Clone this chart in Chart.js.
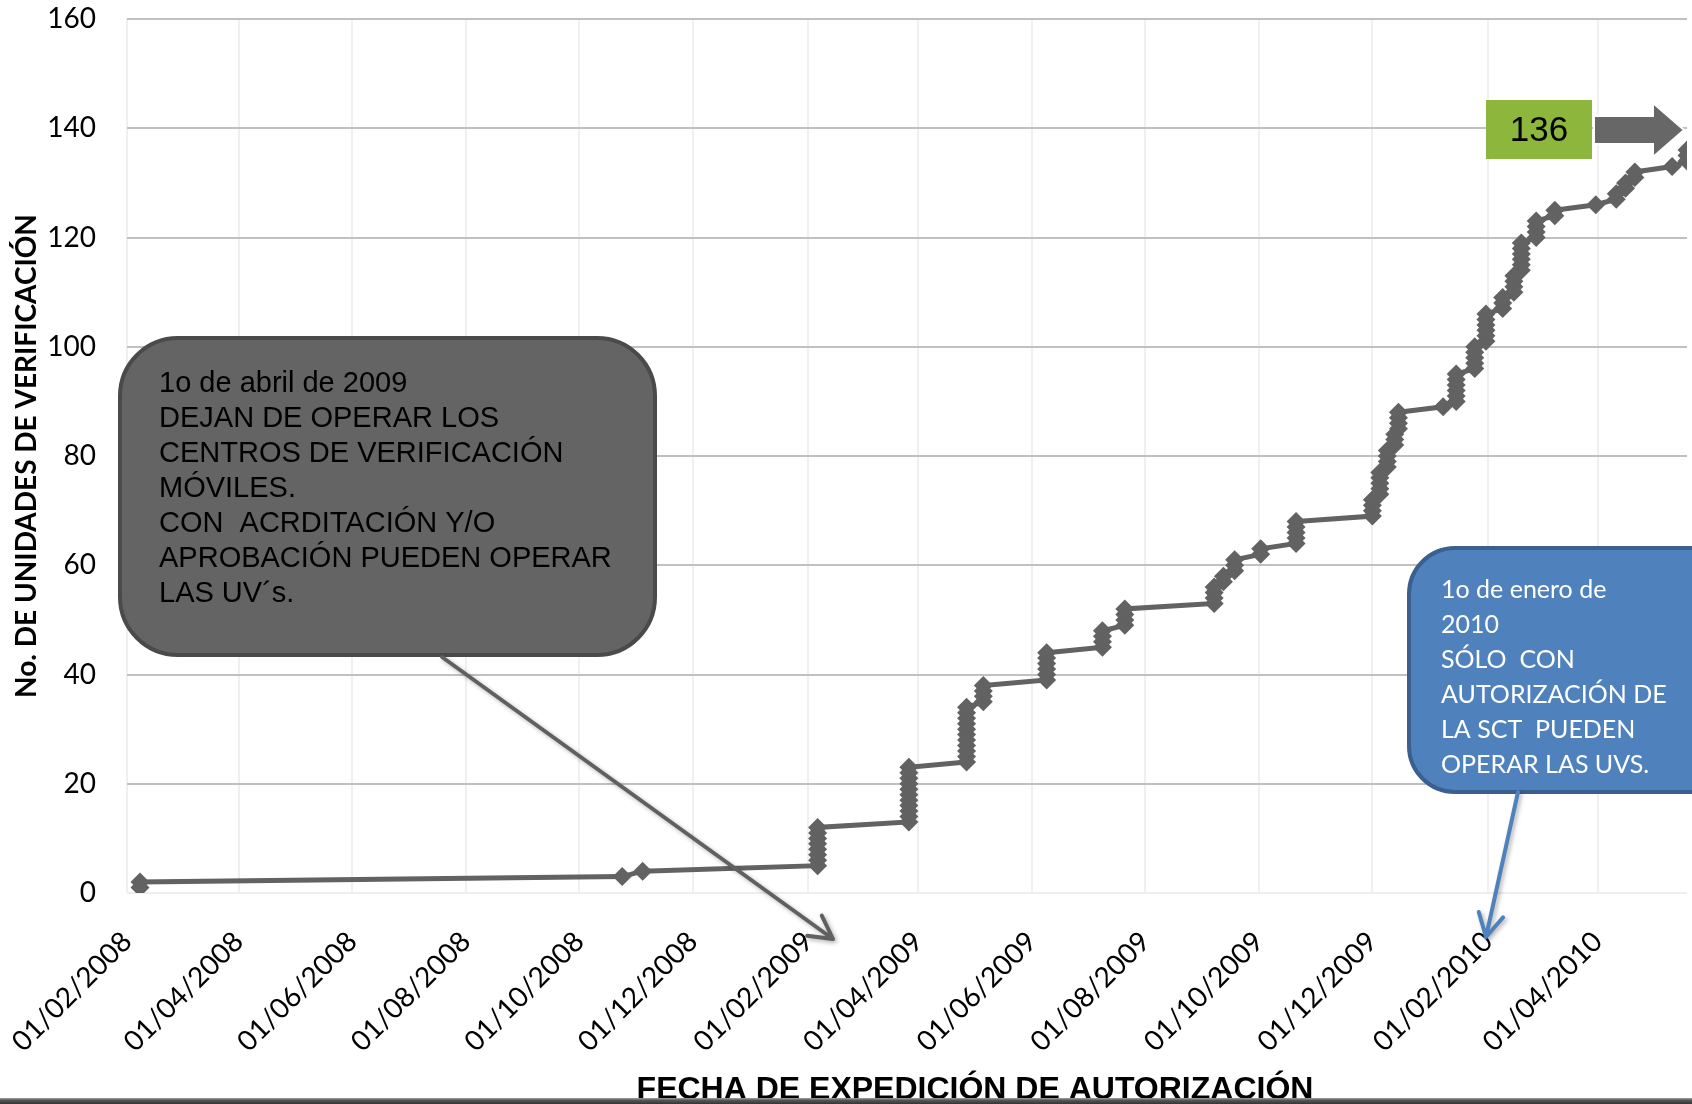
<!DOCTYPE html>
<html lang="es">
<head>
<meta charset="utf-8">
<title>Unidades de verificación</title>
<script src="https://cdn.jsdelivr.net/npm/chart.js@4.4.1/dist/chart.umd.min.js"></script>
<style>
  html, body { margin: 0; padding: 0; background: #fff; overflow: hidden; }
  canvas { display: block; }
</style>
</head>
<body>
<canvas id="graficoUV" width="1692" height="1104"></canvas>
<script>
// fecha de expedición (dd/mm/aaaa) de cada autorización, en orden
const fechas = [
  "08/02/2008", "08/02/2008", "24/10/2008", "04/11/2008",
  "06/02/2009", "06/02/2009", "06/02/2009", "06/02/2009", "06/02/2009", "06/02/2009", "06/02/2009", "06/02/2009",
  "27/03/2009", "27/03/2009", "27/03/2009", "27/03/2009", "27/03/2009", "27/03/2009", "27/03/2009", "27/03/2009", "27/03/2009", "27/03/2009", "27/03/2009",
  "27/04/2009", "27/04/2009", "27/04/2009", "27/04/2009", "27/04/2009", "27/04/2009", "27/04/2009", "27/04/2009", "27/04/2009", "27/04/2009", "27/04/2009",
  "06/05/2009", "06/05/2009", "06/05/2009", "06/05/2009",
  "09/06/2009", "09/06/2009", "09/06/2009", "09/06/2009", "09/06/2009", "09/06/2009",
  "09/07/2009", "09/07/2009", "09/07/2009", "09/07/2009",
  "21/07/2009", "21/07/2009", "21/07/2009", "21/07/2009",
  "07/09/2009", "07/09/2009", "07/09/2009", "07/09/2009",
  "12/09/2009", "12/09/2009",
  "18/09/2009", "18/09/2009", "18/09/2009",
  "02/10/2009", "02/10/2009",
  "21/10/2009", "21/10/2009", "21/10/2009", "21/10/2009", "21/10/2009",
  "01/12/2009", "01/12/2009", "01/12/2009", "01/12/2009",
  "05/12/2009", "05/12/2009", "05/12/2009", "05/12/2009", "05/12/2009",
  "09/12/2009", "09/12/2009", "09/12/2009", "09/12/2009",
  "13/12/2009", "13/12/2009", "13/12/2009",
  "15/12/2009", "15/12/2009", "15/12/2009", "15/12/2009",
  "08/01/2010",
  "15/01/2010", "15/01/2010", "15/01/2010", "15/01/2010", "15/01/2010", "15/01/2010",
  "25/01/2010", "25/01/2010", "25/01/2010", "25/01/2010", "25/01/2010",
  "31/01/2010", "31/01/2010", "31/01/2010", "31/01/2010", "31/01/2010", "31/01/2010",
  "09/02/2010", "09/02/2010", "09/02/2010",
  "15/02/2010", "15/02/2010", "15/02/2010", "15/02/2010",
  "19/02/2010", "19/02/2010", "19/02/2010", "19/02/2010", "19/02/2010", "19/02/2010",
  "27/02/2010", "27/02/2010", "27/02/2010", "27/02/2010",
  "09/03/2010", "09/03/2010",
  "31/03/2010",
  "11/04/2010", "11/04/2010",
  "16/04/2010", "16/04/2010",
  "21/04/2010", "21/04/2010",
  "11/05/2010",
  "19/05/2010", "19/05/2010", "19/05/2010"
];

// número acumulado de unidades de verificación
const unidades = [
  1, 2, 3, 4, 5, 6, 7, 8, 9, 10, 11, 12, 13, 14, 15, 16, 17, 18, 19, 20,
  21, 22, 23, 24, 25, 26, 27, 28, 29, 30, 31, 32, 33, 34, 35, 36, 37, 38, 39, 40,
  41, 42, 43, 44, 45, 46, 47, 48, 49, 50, 51, 52, 53, 54, 55, 56, 57, 58, 59, 60,
  61, 62, 63, 64, 65, 66, 67, 68, 69, 70, 71, 72, 73, 74, 75, 76, 77, 78, 79, 80,
  81, 82, 83, 84, 85, 86, 87, 88, 89, 90, 91, 92, 93, 94, 95, 96, 97, 98, 99, 100,
  101, 102, 103, 104, 105, 106, 107, 108, 109, 110, 111, 112, 113, 114, 115, 116, 117, 118, 119, 120,
  121, 122, 123, 124, 125, 126, 127, 128, 129, 130, 131, 132, 133, 134, 135, 136
];

const etiquetasX = [
  "01/02/2008", "01/04/2008", "01/06/2008", "01/08/2008", "01/10/2008", "01/12/2008",
  "01/02/2009", "01/04/2009", "01/06/2009", "01/08/2009", "01/10/2009", "01/12/2009",
  "01/02/2010", "01/04/2010"
];
const inicioEje = "01/02/2008";
const finEje = "19/05/2010";

const notaAbril = [
  "1o de abril de 2009",
  "DEJAN DE OPERAR LOS",
  "CENTROS DE VERIFICACIÓN",
  "MÓVILES.",
  "CON  ACRDITACIÓN Y/O",
  "APROBACIÓN PUEDEN OPERAR",
  "LAS UV´s."
];
const notaEnero = [
  "1o de enero de",
  "2010",
  "SÓLO  CON",
  "AUTORIZACIÓN DE",
  "LA SCT  PUEDEN",
  "OPERAR LAS UVS."
];
const totalFinal = "136";
const tituloX = "FECHA DE EXPEDICIÓN DE AUTORIZACIÓN";
const tituloY = "No. DE UNIDADES DE VERIFICACIÓN";

// días transcurridos desde el inicio del eje
function dia(txt) {
  const [d, m, a] = txt.split("/").map(Number);
  const [d0, m0, a0] = inicioEje.split("/").map(Number);
  return Math.round((Date.UTC(a, m - 1, d) - Date.UTC(a0, m0 - 1, d0)) / 86400000);
}

function cajaRedondeada(ctx, x, y, w, h, r) {
  ctx.beginPath();
  ctx.moveTo(x + r, y);
  ctx.arcTo(x + w, y, x + w, y + h, r);
  ctx.arcTo(x + w, y + h, x, y + h, r);
  ctx.arcTo(x, y + h, x, y, r);
  ctx.arcTo(x, y, x + w, y, r);
  ctx.closePath();
}

function flecha(ctx, x1, y1, x2, y2, color, grosor) {
  const ang = Math.atan2(y2 - y1, x2 - x1);
  const largo = 26;
  ctx.save();
  ctx.strokeStyle = color;
  ctx.lineWidth = grosor;
  ctx.lineCap = "round";
  ctx.lineJoin = "round";
  ctx.shadowColor = "rgba(0,0,0,0.3)";
  ctx.shadowBlur = 4;
  ctx.shadowOffsetX = 2;
  ctx.shadowOffsetY = 2;
  ctx.beginPath();
  ctx.moveTo(x1, y1);
  ctx.lineTo(x2, y2);
  ctx.moveTo(x2 - largo * Math.cos(ang - 0.5), y2 - largo * Math.sin(ang - 0.5));
  ctx.lineTo(x2, y2);
  ctx.lineTo(x2 - largo * Math.cos(ang + 0.5), y2 - largo * Math.sin(ang + 0.5));
  ctx.stroke();
  ctx.restore();
}

const anotaciones = {
  id: "anotaciones",
  afterDraw(chart) {
    const ctx = chart.ctx;
    ctx.save();

    // nota del 1o de abril de 2009
    cajaRedondeada(ctx, 120, 338, 535, 317, 58);
    ctx.fillStyle = "#646464";
    ctx.fill();
    ctx.lineWidth = 4;
    ctx.strokeStyle = "#4a4a4a";
    ctx.stroke();
    ctx.fillStyle = "#000";
    ctx.font = '29px "Liberation Sans", Arial, sans-serif';
    ctx.textBaseline = "middle";
    ctx.textAlign = "left";
    notaAbril.forEach((t, i) => ctx.fillText(t, 159, 384 + i * 35));
    flecha(ctx, 442, 657, 833, 939, "#606060", 4);

    // nota del 1o de enero de 2010
    cajaRedondeada(ctx, 1409, 548, 330, 244, 46);
    ctx.fillStyle = "#4f81bd";
    ctx.fill();
    ctx.lineWidth = 4;
    ctx.strokeStyle = "#3b5f8e";
    ctx.stroke();
    ctx.fillStyle = "#fff";
    ctx.font = '25px Lato, "Open Sans", sans-serif';
    notaEnero.forEach((t, i) => ctx.fillText(t, 1441, 590 + i * 35));
    flecha(ctx, 1518, 792, 1486, 937, "#4f81bd", 4);

    // total final
    ctx.fillStyle = "#8db73c";
    ctx.fillRect(1486, 100, 106, 59);
    ctx.fillStyle = "#000";
    ctx.textAlign = "center";
    ctx.font = '35px "Liberation Sans", Arial, sans-serif';
    ctx.fillText(totalFinal, 1539, 131);

    ctx.beginPath();
    ctx.moveTo(1594, 116);
    ctx.lineTo(1653, 116);
    ctx.lineTo(1653, 103);
    ctx.lineTo(1684, 130);
    ctx.lineTo(1653, 157);
    ctx.lineTo(1653, 144);
    ctx.lineTo(1594, 144);
    ctx.closePath();
    ctx.fillStyle = "#676767";
    ctx.fill();
    ctx.lineWidth = 2;
    ctx.strokeStyle = "#fff";
    ctx.stroke();

    // título del eje x
    ctx.fillStyle = "#000";
    ctx.font = 'bold 32px "Liberation Sans", Arial, sans-serif';
    ctx.textBaseline = "alphabetic";
    ctx.fillText(tituloX, 975, 1099);

    // franja inferior
    const g = ctx.createLinearGradient(0, 1098, 0, 1104);
    g.addColorStop(0, "#a0a0a0");
    g.addColorStop(0.4, "#555");
    g.addColorStop(1, "#333");
    ctx.fillStyle = g;
    ctx.fillRect(0, 1098, chart.width, 6);

    ctx.restore();
  }
};

function dibujar() {
  const puntos = fechas.map((f, i) => ({ x: dia(f), y: unidades[i] }));
  const ctx = document.getElementById("graficoUV");

  new Chart(ctx, {
    type: "line",
    data: {
      datasets: [{
        label: "Unidades de verificación",
        data: puntos,
        borderColor: "#626262",
        backgroundColor: "#626262",
        borderWidth: 5,
        tension: 0,
        pointStyle: "rectRot",
        pointRadius: 9.5,
        pointBorderWidth: 0,
        pointBackgroundColor: "#626262"
      }]
    },
    options: {
      responsive: false,
      animation: false,
      events: [],
      layout: { autoPadding: false, padding: { top: 19, right: 5, left: 0, bottom: 0 } },
      plugins: { legend: { display: false }, tooltip: { enabled: false } },
      scales: {
        x: {
          type: "linear",
          min: dia(inicioEje),
          max: dia(finEje),
          afterBuildTicks: scale => {
            scale.ticks = etiquetasX.map(t => ({ value: dia(t) }));
          },
          afterFit: scale => {
            scale.height = 211;
            scale.paddingLeft = 0;
            scale.paddingRight = 0;
          },
          ticks: {
            autoSkip: false,
            minRotation: 45,
            maxRotation: 45,
            padding: 32,
            color: "#000",
            font: { family: "Lato", size: 28 },
            callback: (v, i) => etiquetasX[i]
          },
          grid: { color: "#f0f0f0", lineWidth: 2, drawTicks: false },
          border: { display: false }
        },
        y: {
          min: 0,
          max: 160,
          afterFit: scale => {
            scale.width = 127;
            scale.paddingTop = 0;
            scale.paddingBottom = 0;
          },
          ticks: {
            stepSize: 20,
            padding: 31,
            color: "#000",
            font: { family: "Lato", size: 28 }
          },
          grid: {
            color: c => (c.tick && c.tick.value === 0 ? "#eeeeee" : "#c0c0c0"),
            lineWidth: 2,
            drawTicks: false
          },
          border: { display: false },
          title: {
            display: true,
            text: tituloY,
            color: "#000",
            font: { family: "Lato", size: 28, weight: "bold" },
            padding: { top: 10, bottom: 0 }
          }
        }
      }
    },
    plugins: [anotaciones]
  });
}

Promise.all([
  document.fonts.load('28px Lato'),
  document.fonts.load('bold 28px Lato'),
  document.fonts.load('29px "Liberation Sans"'),
  document.fonts.load('bold 32px "Liberation Sans"')
]).then(dibujar, dibujar);
</script>
</body>
</html>
